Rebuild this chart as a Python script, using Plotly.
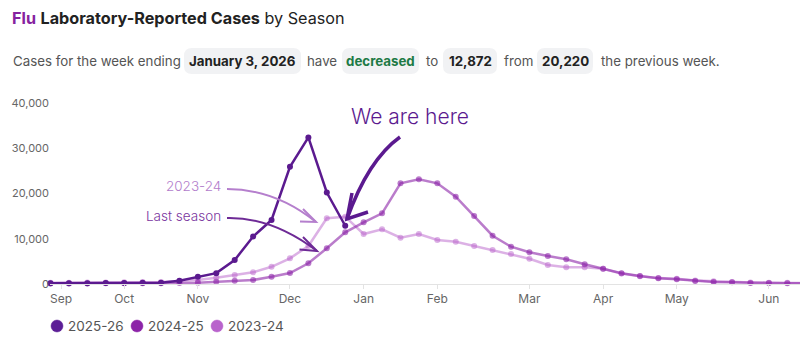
import plotly.graph_objects as go

# ---- data -------------------------------------------------------------
season_weeks = list(range(42))
month_labels = ["Sep", "Oct", "Nov", "Dec", "Jan", "Feb", "Mar", "Apr", "May", "Jun"]
month_weeks = [0.57, 4, 8, 13, 17, 21, 26, 30, 34, 39]
y_ticks = [0, 10000, 20000, 30000, 40000]

season_names = ["2025-26", "2024-25", "2023-24"]
cases_2025_26 = [150, 160, 180, 200, 230, 260, 300, 700, 1600, 2400, 5300,
                 10500, 14150, 25900, 32400, 20220, 12872]
cases_2024_25 = [120, 120, 130, 140, 150, 170, 190, 230, 300, 500, 730, 880,
                 1600, 2430, 4570, 7890, 11430, 13640, 15620, 22250, 23140,
                 22250, 19300, 15030, 10670, 8240, 7000, 6190, 5460, 4350,
                 3380, 2360, 1770, 1260, 1040, 660, 440, 380, 220, 220, 150, 140]
cases_2023_24 = [300, 300, 320, 350, 380, 420, 450, 650, 900, 1400, 2000, 2580,
                 3800, 5680, 8400, 14520, 14870, 11050, 12090, 10230, 11050,
                 9720, 9350, 8400, 7510, 6630, 5590, 4200, 3690, 3690, 3380,
                 2300, 1700, 1300, 1150, 800, 600, 450, 350, 300, 250, 230]

week_ending = "January 3, 2026"
current_cases = cases_2025_26[-1]
previous_cases = cases_2025_26[-2]
trend = "decreased" if current_cases < previous_cases else "increased"

# ---- layout geometry --------------------------------------------------
W, H = 800, 348
L, R, T, B = 50, 0, 100, 64
PW, PH = W - L - R, H - T - B
PLOT_BOTTOM = H - B


def px_x(px):
    return (px - L) / PW


def px_y(py):
    return (PLOT_BOTTOM - py) / PH


def path_of(points):
    pts = [f"{px_x(x):.5f},{px_y(y):.5f}" for x, y in points]
    return "M " + pts[0] + " " + " ".join(f"L {p}" for p in pts[1:])


def quad_path(p0, c, p1):
    f = lambda p: f"{px_x(p[0]):.5f},{px_y(p[1]):.5f}"
    return f"M {f(p0)} Q {f(c)} {f(p1)}"


def pill_path(x0, y0, x1, y1, r=8):
    f = lambda x, y: f"{px_x(x):.5f},{px_y(y):.5f}"
    return (f"M {f(x0 + r, y0)} L {f(x1 - r, y0)} Q {f(x1, y0)} {f(x1, y0 + r)} "
            f"L {f(x1, y1 - r)} Q {f(x1, y1)} {f(x1 - r, y1)} "
            f"L {f(x0 + r, y1)} Q {f(x0, y1)} {f(x0, y1 - r)} "
            f"L {f(x0, y0 + r)} Q {f(x0, y0)} {f(x0 + r, y0)} Z")


FONT = "Inter, 'Noto Sans', sans-serif"
C_2526 = "#5B1A8F"
LEGEND_COLORS = ["#5C1E96", "#8C24A8", "#B963CC"]

fig = go.Figure()

fig.add_trace(go.Scatter(
    x=season_weeks[:len(cases_2023_24)], y=cases_2023_24, mode="lines+markers",
    name=season_names[2],
    line=dict(color="rgba(185,99,204,0.5)", width=2.5),
    marker=dict(color="rgba(185,99,204,0.5)", size=6),
    showlegend=False, cliponaxis=False, hoverinfo="skip"))
fig.add_trace(go.Scatter(
    x=season_weeks[:len(cases_2024_25)], y=cases_2024_25, mode="lines+markers",
    name=season_names[1],
    line=dict(color="rgba(140,36,168,0.6)", width=2.5),
    marker=dict(color="rgba(140,36,168,0.6)", size=6),
    showlegend=False, cliponaxis=False, hoverinfo="skip"))
fig.add_trace(go.Scatter(
    x=season_weeks[:len(cases_2025_26)], y=cases_2025_26, mode="lines+markers",
    name=season_names[0],
    line=dict(color=C_2526, width=2.5),
    marker=dict(color=C_2526, size=6),
    showlegend=False, cliponaxis=False, hoverinfo="skip"))

shapes = []
annotations = []

# title
annotations.append(dict(
    x=px_x(10), y=px_y(18), xref="paper", yref="paper", xanchor="left", yanchor="middle",
    text='<span style="color:#86229F"><b>Flu</b></span> <b>Laboratory-Reported Cases</b> by Season',
    showarrow=False, font=dict(family=FONT, size=16.2, color="#222222")))

# summary sentence with pills
SUB = 13.3
plain = [("Cases for the week ending", 11), ("have", 305), ("to", 424),
         ("from", 502), ("the previous week.", 599)]
for txt, x in plain:
    annotations.append(dict(x=px_x(x), y=px_y(61), xref="paper", yref="paper",
                            xanchor="left", yanchor="middle", text=txt, showarrow=False,
                            font=dict(family=FONT, size=SUB, color="#555555")))

pills = [(f"<b>{week_ending}</b>", 184, 301, "#222222"),
         (f"<b>{trend}</b>", 342, 419, "#1E7A45"),
         (f"<b>{current_cases:,}</b>", 443, 497, "#222222"),
         (f"<b>{previous_cases:,}</b>", 537, 593, "#222222")]
for txt, x0, x1, col in pills:
    shapes.append(dict(type="path", xref="paper", yref="paper", layer="below",
                       path=pill_path(x0, 48, x1, 74), fillcolor="#F1F2F4", line=dict(width=0)))
    annotations.append(dict(x=px_x((x0 + x1) / 2), y=px_y(61), xref="paper", yref="paper",
                            xanchor="center", yanchor="middle", text=txt, showarrow=False,
                            font=dict(family=FONT, size=SUB, color=col)))

# callouts
annotations.append(dict(x=px_x(349), y=px_y(116), xref="paper", yref="paper",
                        xanchor="left", yanchor="middle", text="We are here", showarrow=False,
                        font=dict(family=FONT, size=21, color=C_2526, weight=300)))
annotations.append(dict(x=px_x(223), y=px_y(186), xref="paper", yref="paper",
                        xanchor="right", yanchor="middle", text="2023-24", showarrow=False,
                        font=dict(family=FONT, size=13.5, color="#B27CCB", weight=300)))
annotations.append(dict(x=px_x(223), y=px_y(216), xref="paper", yref="paper",
                        xanchor="right", yanchor="middle", text="Last season", showarrow=False,
                        font=dict(family=FONT, size=13.5, color="#7A349E", weight=300)))

arrows = [
    ((400, 137), (368, 160), (347, 219), [(352, 193), (347, 219), (368, 212)], C_2526, 3.5),
    ((227, 189), (275, 189), (316, 222), [(303, 209), (316, 222), (300, 221.5)], "#B57FCD", 2),
    ((227, 218), (272, 217), (317, 251), [(303, 237), (317, 251), (299.5, 249.5)], "#6E2A96", 2),
]
for p0, c, p1, head, col, w in arrows:
    shapes.append(dict(type="path", xref="paper", yref="paper", layer="above",
                       path=quad_path(p0, c, p1), line=dict(color=col, width=w)))
    shapes.append(dict(type="path", xref="paper", yref="paper", layer="above",
                       path=path_of(head), line=dict(color=col, width=w)))

# legend row: dot + season name
for i, (name, col) in enumerate(zip(season_names, LEGEND_COLORS)):
    cx, cy, r = 57 + 80 * i, 326, 6
    shapes.append(dict(type="circle", xref="paper", yref="paper", layer="above",
                       x0=px_x(cx - r), x1=px_x(cx + r), y0=px_y(cy + r), y1=px_y(cy - r),
                       fillcolor=col, line=dict(color=col, width=0.5)))
    annotations.append(dict(x=px_x(cx + 9), y=px_y(cy), xref="paper", yref="paper",
                            xanchor="left", yanchor="middle", text=name, showarrow=False,
                            font=dict(family=FONT, size=13.5, color="#555555")))

x_lo = -0.5 / 18.42
x_hi = x_lo + PW / 18.42
y_hi = 40000 * PH / 181

fig.update_layout(
    width=W, height=H, autosize=False,
    margin=dict(l=L, r=R, t=T, b=B, pad=0),
    paper_bgcolor="white", plot_bgcolor="white",
    font=dict(family=FONT, color="#555555"),
    shapes=shapes, annotations=annotations, showlegend=False,
    xaxis=dict(range=[x_lo, x_hi], tickmode="array", tickvals=month_weeks, ticktext=month_labels,
               showgrid=False, zeroline=False, showline=True, linecolor="#E3E3E3", linewidth=1,
               ticks="outside", ticklen=4, tickcolor="#E3E3E3",
               tickfont=dict(family=FONT, size=12, color="#666666")),
    yaxis=dict(range=[0, y_hi], tickmode="array", tickvals=y_ticks, tickformat=",d",
               showgrid=False, zeroline=False, showline=False, ticks="",
               tickfont=dict(family=FONT, size=11, color="#666666")),
)

fig.write_html("out.html")
